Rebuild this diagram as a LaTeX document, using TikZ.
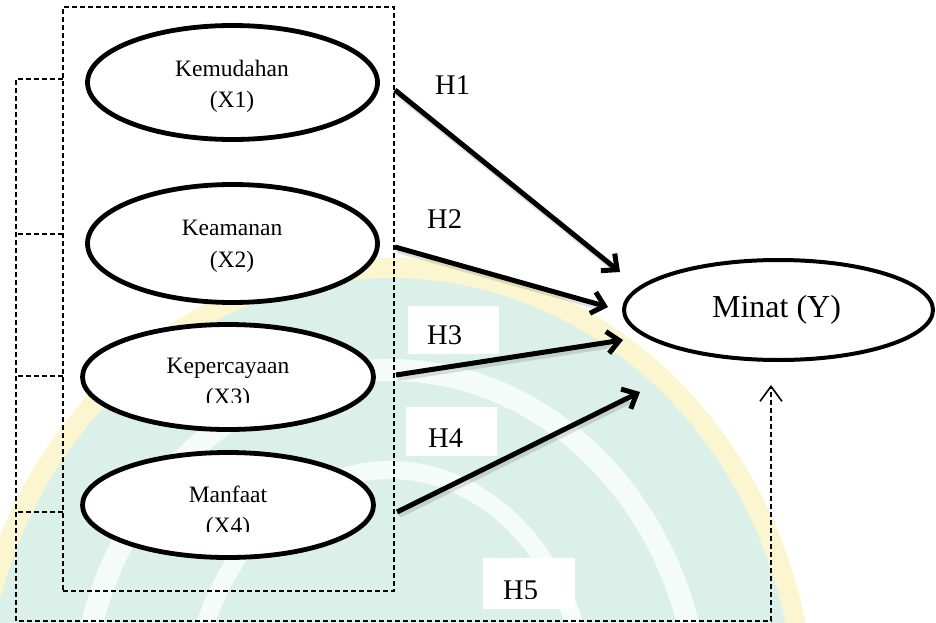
\documentclass[tikz,border=0pt]{standalone}
\usepackage{fontspec}
\setmainfont{Liberation Serif}
\usetikzlibrary{shapes.geometric,arrows.meta}
\definecolor{wmteal}{HTML}{DBF0E8}
\definecolor{wmyellow}{HTML}{FBF6D0}
\begin{document}
\begin{tikzpicture}[x=1pt,y=-1pt,
  ell/.style={ellipse,draw,line width=4.8pt,fill=white,inner sep=0pt},
  lbl/.style={font=\fontsize{23.5}{28}\selectfont,anchor=base,inner sep=0pt},
  hlbl/.style={font=\fontsize{28.5}{32}\selectfont,anchor=base west,inner sep=0pt},
  hbox/.style={fill=white,inner sep=0pt,anchor=north west},
  dline/.style={line width=1.6pt,dash pattern=on 5pt off 3pt},
  arr/.style={line width=5pt,-{Straight Barb[length=12pt,width=22pt]}},
  shad/.style={line width=6pt,black,opacity=0.12,shorten >=14pt},
]
\useasboundingbox (0,0) rectangle (936,623);
% faint watermark
\begin{scope}
  \clip (0,0) rectangle (936,623);
  \fill[wmyellow] (390,720) ellipse [x radius=425pt, y radius=462pt];
  \fill[wmteal] (390,720) ellipse [x radius=405pt, y radius=442pt];
  \draw[white,line width=22pt,opacity=0.75] (390,720) ellipse [x radius=310pt, y radius=350pt];
  \draw[white,line width=18pt,opacity=0.75] (390,720) ellipse [x radius=200pt, y radius=250pt];
\end{scope}

% inner dashed box
\node[draw,dline,minimum width=331pt,minimum height=584pt,inner sep=0pt] (box) at (228.5,299) {};

% outer dashed bracket and H5 path
\coordinate (bk1) at (63,79);
\coordinate (bk2) at (63,234);
\coordinate (bk3) at (63,376);
\coordinate (bk4) at (63,512);
\coordinate (bl1) at (16,79);
\coordinate (bl2) at (16,234);
\coordinate (bl3) at (16,376);
\coordinate (bl4) at (16,512);
\coordinate (bc1) at (16,621);
\coordinate (bc2) at (771,621);
\coordinate (yt) at (771,385);
\draw[dline,-{Straight Barb[length=15pt,width=22pt,line width=1.6pt]}] (bk1) -- (bl1) -- (bc1) -- (bc2) -- (yt);
\draw[dline] (bk2) -- (bl2);
\draw[dline] (bk3) -- (bl3);
\draw[dline] (bk4) -- (bl4);

% label boxes
\node[hbox,minimum width=91pt,minimum height=48pt] (h3box) at (408,306) {};
\node[hbox,minimum width=91pt,minimum height=49pt] (h4box) at (406,407) {};
\node[hbox,minimum width=92pt,minimum height=51pt] (h5box) at (483,558) {};

\node[hlbl] (h1) at (435,95) {H1};
\node[hlbl] (h2) at (427,228) {H2};
\begin{scope}
  \clip (400,300) rectangle (510,345);
  \node[hlbl] (h3) at (427,344.5) {H3};
\end{scope}
\node[hlbl] (h4) at (428,447) {H4};
\begin{scope}
  \clip (480,560) rectangle (580,598.5);
  \node[hlbl] (h5) at (503,599) {H5};
\end{scope}

% arrows
\coordinate (s1) at (395,90);   \coordinate (t1) at (620,272);
\coordinate (s2) at (395,247);  \coordinate (t2) at (608,307);
\coordinate (s3) at (396,375);  \coordinate (t3) at (623,340);
\coordinate (s4) at (397,512);  \coordinate (t4) at (640,392);
\foreach \s/\t in {s1/t1,s2/t2,s3/t3,s4/t4}{
  \draw[shad] ([shift={(2,3)}]\s) -- ([shift={(2,3)}]\t);
}
\draw[arr] (s1) -- (t1);
\draw[arr] (s2) -- (t2);
\draw[arr] (s3) -- (t3);
\draw[arr] (s4) -- (t4);

% ellipses
\node[ell,minimum width=290pt,minimum height=114pt] (x1) at (232.5,82.5) {};
\node[ell,minimum width=290pt,minimum height=118pt] (x2) at (232.5,243.5) {};
\node[ell,minimum width=291pt,minimum height=105pt] (x3) at (228,377) {};
\node[ell,minimum width=291pt,minimum height=105pt] (x4) at (228,505) {};
\node[ell,line width=4pt,minimum width=309pt,minimum height=100pt] (y) at (778.5,310) {};

% ellipse texts
\node[lbl] (x1a) at (232,77) {Kemudahan};
\node[lbl] (x1b) at (232,108) {(X1)};
\node[lbl] (x2a) at (232,235) {Keamanan};
\node[lbl] (x2b) at (232,267) {(X2)};
\node[lbl] (x3a) at (228,373) {Kepercayaan};
\begin{scope}
  \clip (90,380) rectangle (370,402);
  \node[lbl] (x3b) at (228,404) {(X3)};
\end{scope}
\node[lbl] (x4a) at (228,502) {Manfaat};
\begin{scope}
  \clip (90,510) rectangle (370,531);
  \node[lbl] (x4b) at (228,533) {(X4)};
\end{scope}
\node[font=\fontsize{32}{36}\selectfont,anchor=base,inner sep=0pt] (ylab) at (776.5,317) {Minat (Y)};
\end{tikzpicture}
\end{document}
